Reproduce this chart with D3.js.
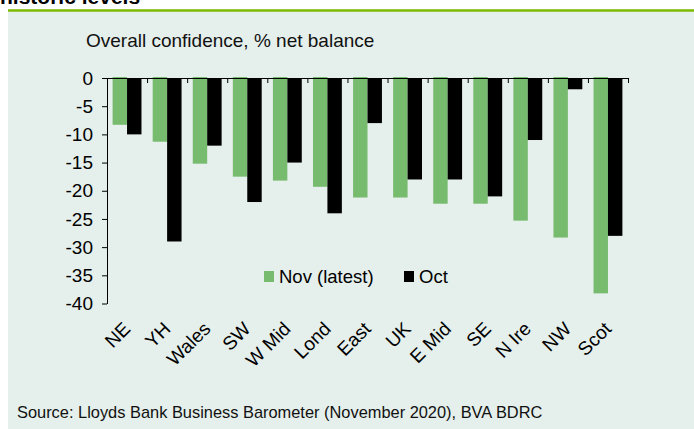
<!DOCTYPE html>
<html>
<head>
<meta charset="utf-8">
<script src="https://cdn.jsdelivr.net/npm/d3@7"></script>
<style>
  body { margin: 0; background: #fff; }
  svg { display: block; font-family: "Liberation Sans", Arial, sans-serif; }
</style>
</head>
<body>
<div id="chart"></div>
<script>
// data
const regions = ["NE", "YH", "Wales", "SW", "W Mid", "Lond", "East", "UK", "E Mid", "SE", "N Ire", "NW", "Scot"];
const novLatest = [-8.3, -11.3, -15.2, -17.5, -18.2, -19.3, -21.2, -21.2, -22.3, -22.3, -25.3, -28.3, -38.2];
const oct = [-10, -29, -12, -22, -15, -24, -8, -18, -18, -21, -11, -2, -28];
const seriesNames = ["Nov (latest)", "Oct"];
const yTicks = [0, -5, -10, -15, -20, -25, -30, -35, -40];

const width = 694, height = 429;
const plot = {left: 107, right: 628, top: 78, bottom: 303.5};
const colors = {"Nov (latest)": "#77bb6f", "Oct": "#000000"};

const svg = d3.select("#chart").append("svg")
  .attr("width", width)
  .attr("height", height);

// panel background + green rule + cut title
svg.append("rect").attr("x", 8).attr("y", 12).attr("width", width - 8).attr("height", height - 12)
  .attr("fill", "#e5efeb");
svg.append("line").attr("x1", 8).attr("x2", width).attr("y1", 10.5).attr("y2", 10.5)
  .attr("stroke", "#7ab800").attr("stroke-width", 2.5);
svg.append("text").attr("x", 0).attr("y", 3.5)
  .attr("font-size", 21).attr("font-weight", "bold").attr("fill", "#000")
  .text("historic levels");

svg.append("text").attr("x", 86).attr("y", 47)
  .attr("font-size", 19).attr("fill", "#111")
  .text("Overall confidence, % net balance");

// scales
const x = d3.scaleBand()
  .domain(regions)
  .range([plot.left, plot.right])
  .paddingInner(0.28)
  .paddingOuter(0.14);

const xInner = d3.scaleBand()
  .domain(seriesNames)
  .range([0, x.bandwidth()]);

const y = d3.scaleLinear()
  .domain([0, -40])
  .range([plot.top, plot.bottom]);

const rows = regions.map((r, i) => ({region: r, values: [
  {key: "Nov (latest)", value: novLatest[i]},
  {key: "Oct", value: oct[i]}
]}));

// bars
const groups = svg.append("g").selectAll("g")
  .data(rows)
  .join("g")
  .attr("transform", d => `translate(${x(d.region)},0)`);

groups.selectAll("rect")
  .data(d => d.values)
  .join("rect")
  .attr("x", d => xInner(d.key))
  .attr("y", d => y(0) - (d.key === "Nov (latest)" ? 1 : 0))
  .attr("width", xInner.bandwidth())
  .attr("height", d => y(d.value) - y(0) + (d.key === "Nov (latest)" ? 1 : 0))
  .attr("fill", d => colors[d.key]);

// y axis
const yAxis = svg.append("g")
  .attr("transform", `translate(${plot.left},0)`)
  .call(d3.axisLeft(y).tickValues(yTicks).tickSize(5).tickSizeOuter(0).tickPadding(9)
    .tickFormat(d => d === 0 ? "0" : d3.format("d")(d).replace("−", "-")));
yAxis.selectAll("text").attr("font-size", 19).attr("fill", "#000").attr("font-family", "Liberation Sans, Arial, sans-serif");
yAxis.selectAll("line, path").attr("stroke", "#000");

// x axis on the zero line, ticks at category boundaries
const xEdge = d3.scaleLinear().domain([0, regions.length]).range([plot.left, plot.right]);
const xAxis = svg.append("g")
  .attr("transform", `translate(0,${y(0)})`)
  .call(d3.axisBottom(xEdge).ticks(regions.length).tickSize(5).tickSizeOuter(0).tickFormat(""));
xAxis.selectAll("line, path").attr("stroke", "#000");

// rotated category labels near the bottom
svg.append("g").selectAll("text")
  .data(regions)
  .join("text")
  .attr("transform", d => `translate(${x(d) + x.bandwidth() / 2 + 4.5},330) rotate(-45)`)
  .attr("text-anchor", "end")
  .attr("font-size", 19)
  .attr("fill", "#000")
  .text(d => d);

// legend
const legendX = [264, 404];
const legend = svg.append("g").selectAll("g")
  .data(seriesNames)
  .join("g")
  .attr("transform", (d, i) => `translate(${legendX[i]},271)`);
legend.append("rect").attr("width", 10).attr("height", 11).attr("fill", d => colors[d]);
legend.append("text").attr("x", 15).attr("y", 12)
  .attr("font-size", 18.5).attr("fill", "#000").text(d => d);

// source
svg.append("text").attr("x", 17).attr("y", 418)
  .attr("font-size", 16.4).attr("fill", "#111")
  .text("Source: Lloyds Bank Business Barometer (November 2020), BVA BDRC");
</script>
</body>
</html>
